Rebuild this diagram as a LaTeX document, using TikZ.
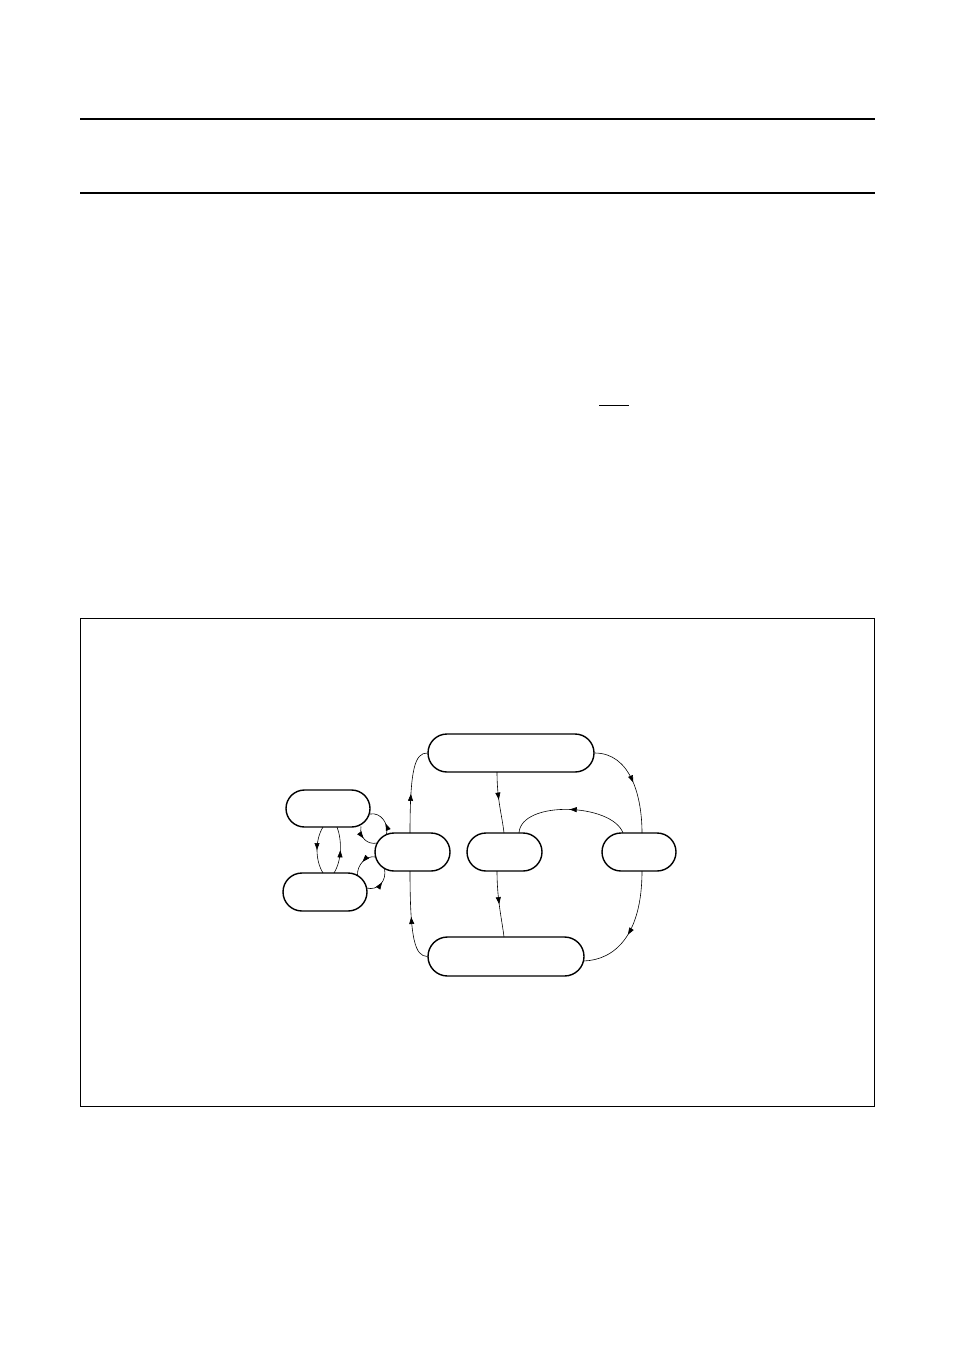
\documentclass[tikz,border=0pt]{standalone}
\usetikzlibrary{calc,arrows.meta,decorations.markings,shapes.misc}
\tikzset{
  pill/.style={draw, line width=1.4pt, rounded rectangle, inner sep=0pt, minimum width=#1},
  pill/.default=75pt,
  conn/.style={line width=0.6pt},
  midarrow/.style={postaction={decorate,decoration={markings,mark=at position #1 with {\arrow{Triangle[length=7pt,width=5pt]}}}}},
  midarrow/.default=0.5
}
\begin{document}
\begin{tikzpicture}[x=1pt,y=-1pt]
\useasboundingbox (0,0) rectangle (954,1351);
\fill[white] (0,0) rectangle (954,1351);
% page rules
\draw[line width=2pt] (80,119) -- (875,119);
\draw[line width=2pt] (80,193) -- (875,193);
\draw[line width=1pt] (599,405.5) -- (629,405.5);
% figure frame
\draw[line width=1pt] (80.5,618.5) rectangle (874.5,1106);
% nodes
\node[pill=84pt, minimum height=37pt] (A) at (328,808.5) {};
\node[pill=84pt, minimum height=38pt] (B) at (325,892) {};
\node[pill=75pt, minimum height=38pt] (C) at (412.5,852) {};
\node[pill=166pt, minimum height=38pt] (D) at (511,753) {};
\node[pill=75pt, minimum height=38pt] (E) at (504.5,852) {};
\node[pill=74pt, minimum height=38pt] (F) at (639,852) {};
\node[pill=156pt, minimum height=39pt] (G) at (506,956.5) {};
% right part
\draw[conn, midarrow=0.45] ($(C)+(-2.5,-19)$) .. controls (410,768) and (415,753) .. (D.west);
\draw[conn, midarrow=0.5] (G.west) .. controls (415,956) and (410,940) .. ($(C)+(-2.5,19)$);
\draw[conn, midarrow=0.45] ($(D)+(-14,19)$) .. controls (497,800) and (502,815) .. ($(E)+(-0.5,-19)$);
\draw[conn, midarrow=0.5] ($(E)+(-7.5,19)$) .. controls (497,900) and (502,920) .. ($(G)+(-2,-19.5)$);
\draw[conn, midarrow=0.5] ($(F)+(-16,-19)$) .. controls (612,803) and (521,800) .. ($(E)+(14.5,-19)$);
\draw[conn, midarrow=0.5] (D.east) .. controls (630,753) and (642,795) .. ($(F)+(3,-19)$);
\draw[conn, midarrow=0.55] ($(F)+(3,19)$) .. controls (642,935) and (615,960) .. ($(G)+(77.5,4.5)$);
% left part
\draw[conn, midarrow=0.5] ($(A)+(-5,18.5)$) .. controls (315,840) and (315,860) .. ($(B)+(-2,-19)$);
\draw[conn, midarrow=0.5] ($(B)+(9,-19)$) .. controls (342,860) and (342,840) .. ($(A)+(9,18.5)$);
\draw[conn, midarrow=0.35] ($(C)+(-26,-18)$) .. controls (389,824) and (381,812) .. ($(A)+(42,5.5)$);
\draw[conn, midarrow=0.45] ($(A)+(33,18)$) .. controls (359,838) and (368,845) .. ($(C)+(-35.5,-9)$);
\draw[conn, midarrow=0.5] ($(C)+(-37,5)$) .. controls (366,855) and (357,865) .. ($(B)+(32.5,-17)$);
\draw[conn, midarrow=0.55] ($(B)+(41.5,-4)$) .. controls (378,891) and (387,881) .. ($(C)+(-28,16.5)$);
\end{tikzpicture}
\end{document}
